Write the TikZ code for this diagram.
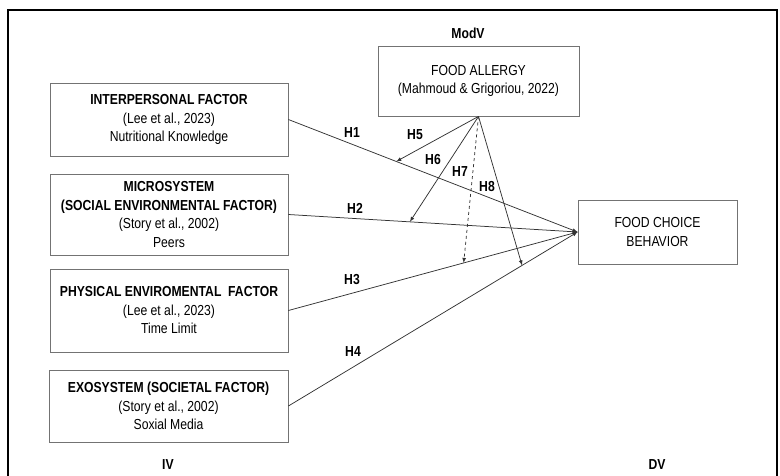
\documentclass[tikz,border=0pt]{standalone}
\usepackage{fontspec}
\setmainfont{Liberation Sans}[FakeStretch=0.84]
\usetikzlibrary{positioning}

\begin{document}
\begin{tikzpicture}[x=1pt,y=-1pt,
    box/.style={draw=black!55, line width=.8pt, align=center, inner sep=2pt,
      font=\fontsize{14.5}{18.5}\selectfont},
    lbl/.style={font=\bfseries\fontsize{14.5}{16}\selectfont},
    link/.style={draw=black!80, line width=.75pt},
    >=latex]
    \useasboundingbox (0,0) rectangle (780,475);
    \draw[line width=1.6pt] (8,490) -- (8,10) -- (777,10) -- (777,490);

    % independent variables
    \node[box, minimum width=238pt, minimum height=73pt] (inter) at (169,119.5)
      {\textbf{INTERPERSONAL FACTOR}\\(Lee et al., 2023)\\Nutritional Knowledge};
    \node[box, minimum width=238pt, minimum height=81pt] (micro) at (169,214.5)
      {\textbf{MICROSYSTEM}\\\textbf{(SOCIAL ENVIRONMENTAL FACTOR)}\\(Story et al., 2002)\\Peers};
    \node[box, minimum width=238pt, minimum height=83pt] (phys) at (169,310.5)
      {\textbf{PHYSICAL ENVIROMENTAL\ \ FACTOR}\\(Lee et al., 2023)\\Time Limit};
    \node[box, minimum width=239pt, minimum height=72pt] (exo) at (168.5,406)
      {\textbf{EXOSYSTEM (SOCIETAL FACTOR)}\\(Story et al., 2002)\\Soxial Media};

    % moderator and dependent variable
    \node[box, minimum width=201pt, minimum height=70pt] (fa) at (478.5,81)
      {FOOD ALLERGY\\(Mahmoud \& Grigoriou, 2022)};
    \node[box, minimum width=159pt, minimum height=64pt] (fcb) at (657.5,232)
      {FOOD CHOICE\\BEHAVIOR};

    \node[lbl] (modv) at (468,33) {ModV};
    \node[lbl] (iv) at (168,465) {IV};
    \node[lbl] (dv) at (657,465) {DV};

    % direct paths
    \foreach \s/\p/\m in {inter/.373/m5, micro/.42/m6, phys/.606/m7, exo/.808/m8}
    {
      \draw[link,->] (\s.east) -- coordinate[pos=\p] (\m) (fcb.west);
    }

    % moderation paths
    \foreach \m in {m5,m6,m8}
      \draw[link,->] (fa.south) -- (\m);
    \draw[link,->,dashed] (fa.south) -- (m7);

    \foreach \n/\x/\y in {H1/352/133, H2/355/208, H3/352/280, H4/353/352,
      H5/415/135, H6/433/160, H7/460/172, H8/487/187}
      \node[lbl] (h\n) at (\x,\y) {\n};
\end{tikzpicture}
\end{document}
